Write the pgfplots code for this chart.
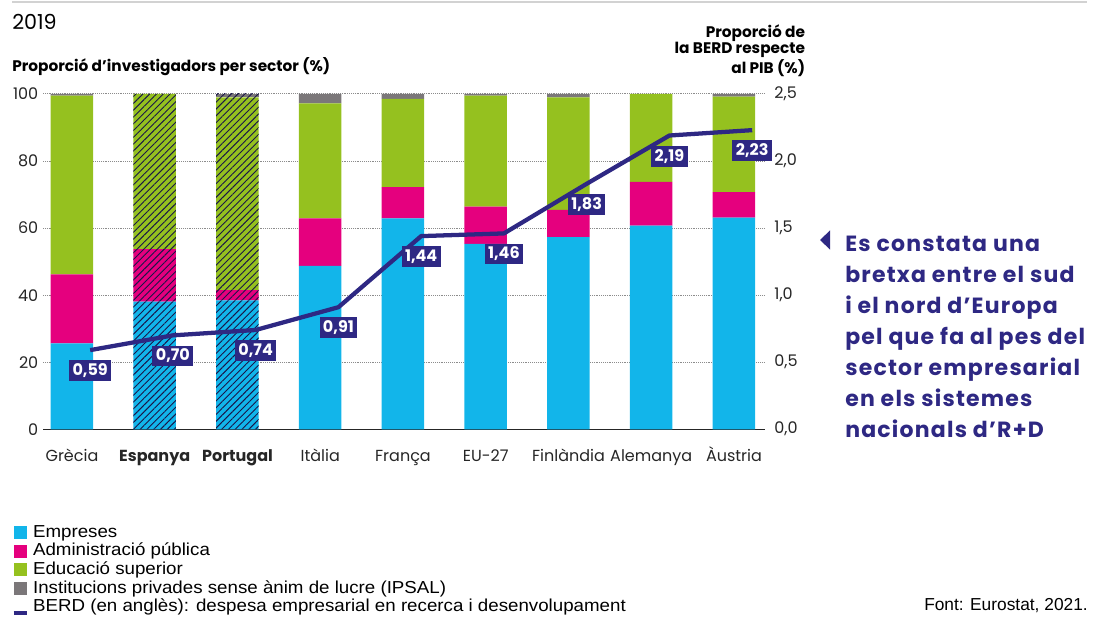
\documentclass[border=0pt]{standalone}
\usepackage{pgfplots}
\pgfplotsset{compat=1.18}
\usetikzlibrary{patterns.meta}
\usepackage{fontspec}
\setmainfont{Poppins}
\newfontfamily\legfont[FakeStretch=1.08]{Liberation Sans}
\newfontfamily\srcfont{Liberation Sans}
\newfontfamily\annfont[LetterSpace=5.5]{Poppins Bold}
\definecolor{cemp}{HTML}{12B5EA}
\definecolor{cadm}{HTML}{E5007E}
\definecolor{cedu}{HTML}{95C11F}
\definecolor{cips}{HTML}{7B7779}
\definecolor{navy}{HTML}{2E2883}
\pgfplotsset{
  sq legend/.style={legend image code/.code={\fill[##1] (0pt,-4.6pt) rectangle (9.75pt,5pt);}},
  hatch/.style={postaction={fill opacity=0.7, pattern={Lines[angle=45,distance=3.6pt,line width=0.7pt]}, pattern color=navy!55!black}},
}
\begin{document}
\begin{tikzpicture}
\useasboundingbox (0,0) rectangle (819.75pt,462.75pt);
\draw[gray!35, line width=1.5pt] (9pt,461pt) -- (815pt,461pt);
\node[anchor=west, font=\fontsize{15.5}{18}\selectfont, inner sep=0pt] at (9pt,446.25pt) {2019};
\node[anchor=west, font=\fontsize{11.5}{13}\selectfont\bfseries, inner sep=0pt] at (9pt,412.5pt) {Proporció d’investigadors per sector (\%)};
\node[anchor=north east, align=right, font=\fontsize{11.5}{12.4}\selectfont\bfseries, inner sep=0pt] at (604pt,444.5pt) {Proporció de\\la BERD respecte\\al PIB (\%)};

\begin{axis}[
  at={(32.25pt,140.8pt)}, anchor=south west,
  scale only axis, width=541.5pt, height=251.5pt,
  xmin=-0.35, xmax=8.375, ymin=0, ymax=100,
  ybar stacked, bar width=31.9pt,
  xtick={0,...,8},
  xticklabels={Grècia,\textbf{Espanya},\textbf{Portugal},Itàlia,França,EU-27,Finlàndia,Alemanya,Àustria},
  ytick={0,20,...,100},
  ymajorgrids, major grid style={densely dotted, black!45, line width=0.7pt},
  axis x line*=bottom, axis y line*=left,
  y axis line style={draw=none},
  x axis line style={black!85, line width=0.9pt},
  tick style={draw=none},
  tick label style={font=\fontsize{12}{14}\selectfont, text=black!85},
  xticklabel style={anchor=base, yshift=-24pt},
  /pgf/number format/assume math mode=true,
  legend style={at={(-0.043,-0.282)}, anchor=north west, draw=none, fill=none,
    inner sep=0pt, outer sep=0pt, font=\legfont\fontsize{13}{14}\selectfont,
    row sep=0.5pt, column sep=3pt,
    nodes={inner sep=0.5pt, text height=9.5pt, text depth=3pt}, cells={anchor=west}},
  legend cell align=left,
]
\addplot[fill=cemp, draw=none, sq legend] coordinates {(0,25.6) (1,0) (2,0) (3,48.7) (4,62.9) (5,55.3) (6,57.3) (7,60.7) (8,63.1)};
\addlegendentry{Empreses}
\addplot[fill=cemp, draw=none, hatch, forget plot] coordinates {(0,0) (1,38.1) (2,38.4) (3,0) (4,0) (5,0) (6,0) (7,0) (8,0)};
\addplot[fill=cadm, draw=none, sq legend] coordinates {(0,20.6) (1,0) (2,0) (3,14.2) (4,9.3) (5,11.1) (6,8.1) (7,13.1) (8,7.6)};
\addlegendentry{Administració pública}
\addplot[fill=cadm, draw=none, hatch, forget plot] coordinates {(0,0) (1,15.6) (2,3.1) (3,0) (4,0) (5,0) (6,0) (7,0) (8,0)};
\addplot[fill=cedu, draw=none, sq legend] coordinates {(0,53.3) (1,0) (2,0) (3,34.3) (4,26.3) (5,33.1) (6,33.6) (7,26.2) (8,28.5)};
\addlegendentry{Educació superior}
\addplot[fill=cedu, draw=none, hatch, forget plot] coordinates {(0,0) (1,46.3) (2,57.5) (3,0) (4,0) (5,0) (6,0) (7,0) (8,0)};
\addplot[fill=cips, draw=none, sq legend] coordinates {(0,0.5) (1,0) (2,0) (3,2.8) (4,1.5) (5,0.5) (6,1.0) (7,0) (8,0.8)};
\addlegendentry{Institucions privades sense ànim de lucre (IPSAL)}
\addplot[fill=cips, draw=none, hatch, forget plot] coordinates {(0,0) (1,0) (2,1.0) (3,0) (4,0) (5,0) (6,0) (7,0) (8,0)};
\addlegendimage{legend image code/.code={\draw[navy, line width=2.6pt] (0pt,-4pt) -- (9.75pt,-4pt);}}
\addlegendentry{BERD (en anglès): despesa empresarial en recerca i desenvolupament}
\end{axis}

\begin{axis}[
  at={(32.25pt,140.8pt)}, anchor=south west,
  scale only axis, width=541.5pt, height=251.5pt,
  xmin=-0.35, xmax=8.375, ymin=0, ymax=2.5,
  axis y line*=right, axis x line=none,
  y axis line style={draw=none}, tick style={draw=none},
  ytick={0,0.5,1,1.5,2,2.5},
  tick label style={font=\fontsize{12}{14}\selectfont, text=black!85},
  yticklabel style={xshift=3.5pt, /pgf/number format/.cd, fixed, fixed zerofill, precision=1, use comma},
  /pgf/number format/assume math mode=true,
]
\addplot[navy, line width=3.2pt, line join=round, mark=none,
  nodes near coords={\pgfmathprintnumber[fixed,fixed zerofill,precision=2,use comma]{\pgfplotspointmeta}},
  every node near coord/.style={anchor=north, yshift=-6pt, fill=navy, text=white,
    font=\fontsize{12}{13}\selectfont\bfseries, inner sep=2.6pt}]
  coordinates {(0.22,0.59) (1.22,0.70) (2.22,0.74) (3.22,0.91) (4.22,1.44) (5.22,1.46) (6.22,1.83) (7.22,2.19) (8.22,2.23)};
\end{axis}

\fill[navy] (615pt,282.75pt) -- (622.5pt,289.9pt) -- (622.5pt,275.6pt) -- cycle;
\foreach \t [count=\i from 0] in {Es constata una,bretxa entre el sud,i el nord d’Europa,pel que fa al pes del,sector empresarial,en els sistemes,nacionals d’R+D}{
  \node[anchor=base west, inner sep=0pt, text=navy, font=\annfont\fontsize{16.5}{18}\selectfont] at (633.75pt,{274.1pt-\i*23.25pt}) {\t};
}
\node[anchor=base east, inner sep=0pt, font=\srcfont\fontsize{13}{15}\selectfont] at (816pt,4.5pt) {Font: Eurostat, 2021.};
\end{tikzpicture}
\end{document}
